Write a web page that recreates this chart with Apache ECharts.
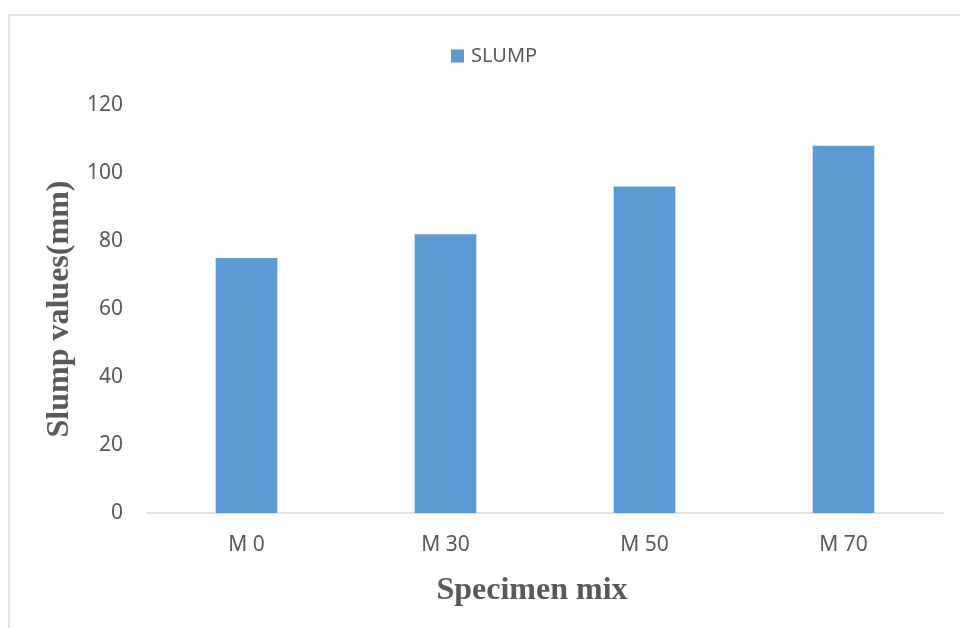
<!DOCTYPE html>
<html>
<head>
<meta charset="utf-8">
<script src="https://cdn.jsdelivr.net/npm/echarts@6/dist/echarts.min.js"></script>
<style>html,body{margin:0;padding:0;background:#fff}#c{width:960px;height:628px}</style>
</head>
<body>
<div id="c"></div>
<script>
const categories = ['M 0', 'M 30', 'M 50', 'M 70'];
const slumpValues = [75, 82, 96, 108];
const seriesName = 'SLUMP';
const yTitle = 'Slump values(mm)';
const xTitle = 'Specimen mix';

const chart = echarts.init(document.getElementById('c'));
chart.setOption({
  animation: false,
  graphic: [{
    type: 'rect',
    shape: { x: 9, y: 15, width: 1000, height: 700 },
    style: { fill: 'none', stroke: '#d9d9d9', lineWidth: 1.5 },
    silent: true
  }],
  legend: {
    data: [seriesName],
    top: 41,
    left: 446,
    itemWidth: 13,
    itemHeight: 13,
    itemGap: 4,
    icon: 'rect',
    textStyle: { fontFamily: 'Noto Sans', fontSize: 20, color: '#595959', padding: [0, 0, 0, 2] }
  },
  grid: { left: 147, right: 17, top: 105, bottom: 115 },
  xAxis: {
    type: 'category',
    data: categories,
    name: xTitle,
    nameLocation: 'middle',
    nameGap: 62,
    nameTextStyle: { fontFamily: 'Liberation Serif', fontWeight: 'bold', fontSize: 32, color: '#595959', padding: [0, 26, 0, 0] },
    axisLine: { lineStyle: { color: '#d9d9d9', width: 1.5 } },
    axisTick: { show: false },
    axisLabel: { margin: 22, fontFamily: 'Noto Sans', fontSize: 21, color: '#595959' }
  },
  yAxis: {
    type: 'value',
    min: 0, max: 120, interval: 20,
    name: yTitle,
    nameLocation: 'middle',
    nameGap: 68,
    nameTextStyle: { fontFamily: 'Liberation Serif', fontWeight: 'bold', fontSize: 32, color: '#595959' },
    axisLine: { show: false },
    axisTick: { show: false },
    splitLine: { show: false },
    axisLabel: { margin: 24, fontFamily: 'Noto Sans', fontSize: 21, color: '#595959' }
  },
  series: [{
    name: seriesName,
    type: 'bar',
    data: slumpValues,
    barWidth: '31%',
    itemStyle: { color: '#5b9bd5' }
  }]
});
</script>
</body>
</html>
